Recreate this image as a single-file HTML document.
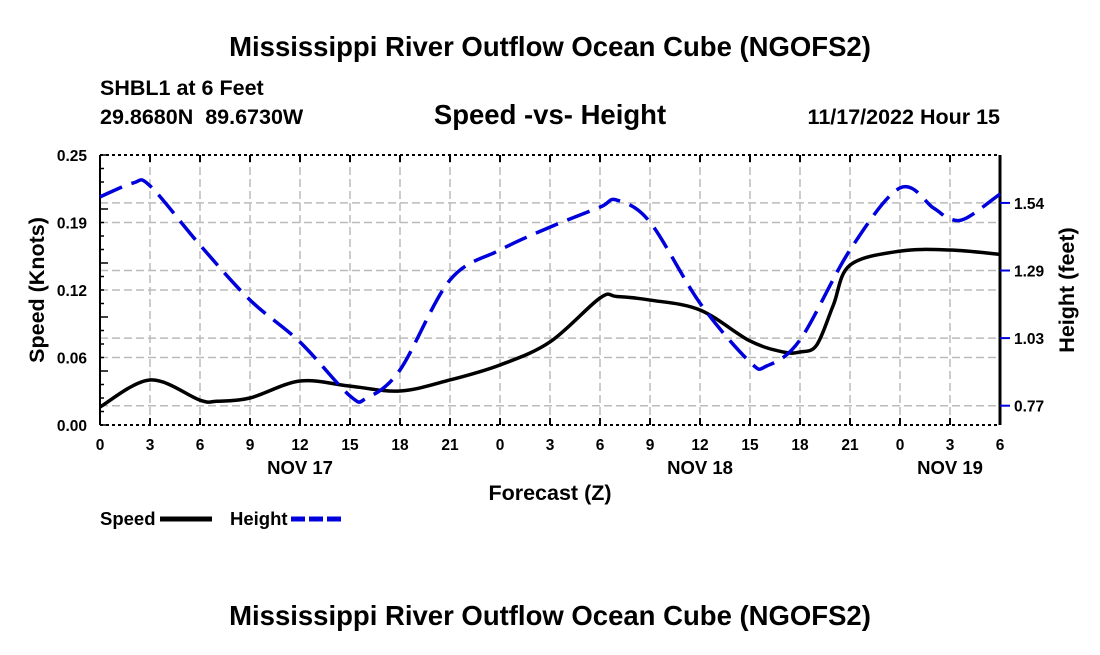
<!DOCTYPE html>
<html><head><meta charset="utf-8">
<style>
body{margin:0;background:#fff;font-family:"Liberation Sans",Arial,sans-serif;}
svg text{font-family:"Liberation Sans",Arial,sans-serif;font-weight:bold;fill:#000;}
</style></head>
<body>
<svg id="chart" width="1100" height="650" viewBox="0 0 1100 650">
<text x="550" y="56" font-size="27.5" text-anchor="middle">Mississippi River Outflow Ocean Cube (NGOFS2)</text>
<text x="100" y="95" font-size="21.5">SHBL1 at 6 Feet</text>
<text x="100" y="124" font-size="21.5">29.8680N&#160;&#160;89.6730W</text>
<text x="550" y="124" font-size="27.5" text-anchor="middle">Speed -vs- Height</text>
<text x="1000" y="124" font-size="21.5" text-anchor="end">11/17/2022 Hour 15</text>
<g id="grid"></g>
<g id="axes"></g>
<g id="series"></g>
<text x="550" y="500" font-size="21.5" text-anchor="middle">Forecast (Z)</text>
<text transform="translate(44,290) rotate(-90)" font-size="21.5" text-anchor="middle">Speed (Knots)</text>
<text transform="translate(1074,290) rotate(-90)" font-size="21.5" text-anchor="middle">Height (feet)</text>
<g>
<text x="100" y="525" font-size="18.5">Speed</text>
<line x1="160" y1="519" x2="212" y2="519" stroke="#000" stroke-width="5"/>
</g>
<g>
<text x="230" y="525" font-size="18.5">Height</text>
<line x1="291" y1="519" x2="342" y2="519" stroke="#0000dd" stroke-width="5" stroke-dasharray="14,4"/>
</g>
<text x="550" y="625" font-size="27.5" text-anchor="middle">Mississippi River Outflow Ocean Cube (NGOFS2)</text>
</svg>
<script>
const speedHours=[0,3,6,7,9,12,15,18,21,24,27,30,31,33,36,39,41,42,43,44,45,48,51,54];
const speedValues=[0.0167,0.0417,0.023,0.022,0.025,0.0407,0.036,0.0315,0.0417,0.0556,0.0769,0.1176,0.119,0.1157,0.1065,0.0778,0.0676,0.0676,0.074,0.111,0.148,0.161,0.162,0.158];
const heightHours=[0,2,3,6,9,12,15,16,18,21,24,27,30,31,33,36,39,40,42,45,48,50,51,52,54];
const heightValues=[1.565,1.618,1.607,1.382,1.173,1.013,0.808,0.800,0.907,1.249,1.363,1.450,1.526,1.553,1.469,1.161,0.937,0.922,1.021,1.363,1.599,1.523,1.481,1.485,1.576];
const xTickLabels=["0","3","6","9","12","15","18","21","0","3","6","9","12","15","18","21","0","3","6"];
const dateLabels=["NOV 17","NOV 18","NOV 19"];
const dateHours=[12,36,51];
const leftTicks=[0,0.0625,0.125,0.1875,0.25];
const leftTickLabels=["0.00","0.06","0.12","0.19","0.25"];
const rightTicks=[0.771,1.028,1.285,1.542];
const rightTickLabels=["0.77","1.03","1.29","1.54"];

const X0=100,X1=1000,YT=155,YB=425;
const xs=h=>X0+h/54*(X1-X0);
const ysL=v=>YB-v/0.25*(YB-YT);
const ysR=v=>405.7-(v-0.771)*263;
const NS="http://www.w3.org/2000/svg";
function mk(tag,attrs,parent){const e=document.createElementNS(NS,tag);for(const k in attrs)e.setAttribute(k,attrs[k]);parent.appendChild(e);return e;}
const grid=document.getElementById('grid'),axes=document.getElementById('axes'),series=document.getElementById('series');

xTickLabels.forEach((l,i)=>{const x=xs(i*3);if(i>0&&i<18){const g=mk('line',{x1:x,x2:x,y1:YT,y2:YB,stroke:'#bbb','stroke-width':1.5,'stroke-dasharray':'8,4'},grid);

}});
leftTicks.slice(1,4).forEach(v=>{const g=mk('line',{x1:X0,x2:X1,y1:ysL(v),y2:ysL(v),stroke:'#bbb','stroke-width':1.5,'stroke-dasharray':'8,4'},grid);

});
rightTicks.forEach(v=>{const g=mk('line',{x1:X0,x2:X1,y1:ysR(v),y2:ysR(v),stroke:'#bbb','stroke-width':1.5,'stroke-dasharray':'8,4'},grid);

});

mk('line',{x1:X0,x2:X0,y1:YT,y2:YB,stroke:'#000','stroke-width':2},axes);
mk('line',{x1:X1,x2:X1,y1:YT,y2:YB,stroke:'#000','stroke-width':3},axes);
mk('line',{x1:X0,x2:X1,y1:YT,y2:YT,stroke:'#000','stroke-width':2,'stroke-dasharray':'3,3'},axes);
mk('line',{x1:X0,x2:X1,y1:YB,y2:YB,stroke:'#000','stroke-width':2,'stroke-dasharray':'3,3'},axes);
xTickLabels.forEach((l,i)=>{const x=xs(i*3);
mk('line',{x1:x,x2:x,y1:YB,y2:YB-7,stroke:'#000','stroke-width':2},axes);
mk('line',{x1:x,x2:x,y1:YT,y2:YT+7,stroke:'#000','stroke-width':2},axes);
const t=mk('text',{x:x,y:YB+25,'font-size':15.5,'text-anchor':'middle'},axes);t.textContent=l;

});
dateLabels.forEach((l,i)=>{const t=mk('text',{x:xs(dateHours[i]),y:YB+49,'font-size':18.5,'text-anchor':'middle'},axes);t.textContent=l;

});
for(let k=0;k<=20;k++){const y=YB-k*(YB-YT)/20;mk('line',{x1:X0,x2:X0+(k%4==0?8:4),y1:y,y2:y,stroke:'#000','stroke-width':1.5},axes);}
leftTicks.forEach((v,i)=>{const t=mk('text',{x:X0-13,y:ysL(v)+6,'font-size':15.5,'text-anchor':'end'},axes);t.textContent=leftTickLabels[i];

});
rightTicks.forEach((v,i)=>{const y=ysR(v);mk('line',{x1:X1,x2:X1+10,y1:y,y2:y,stroke:'#0000dd','stroke-width':2},axes);
const t=mk('text',{x:X1+14,y:y+6,'font-size':15.5},axes);t.textContent=rightTickLabels[i];

});

function path(hs,vs,fy){const p=hs.map((h,i)=>[xs(h),fy(vs[i])]);let d='M'+p[0][0]+','+p[0][1];
for(let i=0;i<p.length-1;i++){const p0=p[Math.max(0,i-1)],p1=p[i],p2=p[i+1],p3=p[Math.min(p.length-1,i+2)];
const c1=[p1[0]+(p2[0]-p0[0])/6,p1[1]+(p2[1]-p0[1])/6],c2=[p2[0]-(p3[0]-p1[0])/6,p2[1]-(p3[1]-p1[1])/6];
d+=` C${c1[0]},${c1[1]} ${c2[0]},${c2[1]} ${p2[0]},${p2[1]}`;}return d;}
const sp=mk('path',{d:path(speedHours,speedValues,ysL),fill:'none',stroke:'#000','stroke-width':3.5},series);


const hp=mk('path',{d:path(heightHours,heightValues,ysR),fill:'none',stroke:'#0000dd','stroke-width':3.5,'stroke-dasharray':'24,10'},series);


</script>
</body></html>
